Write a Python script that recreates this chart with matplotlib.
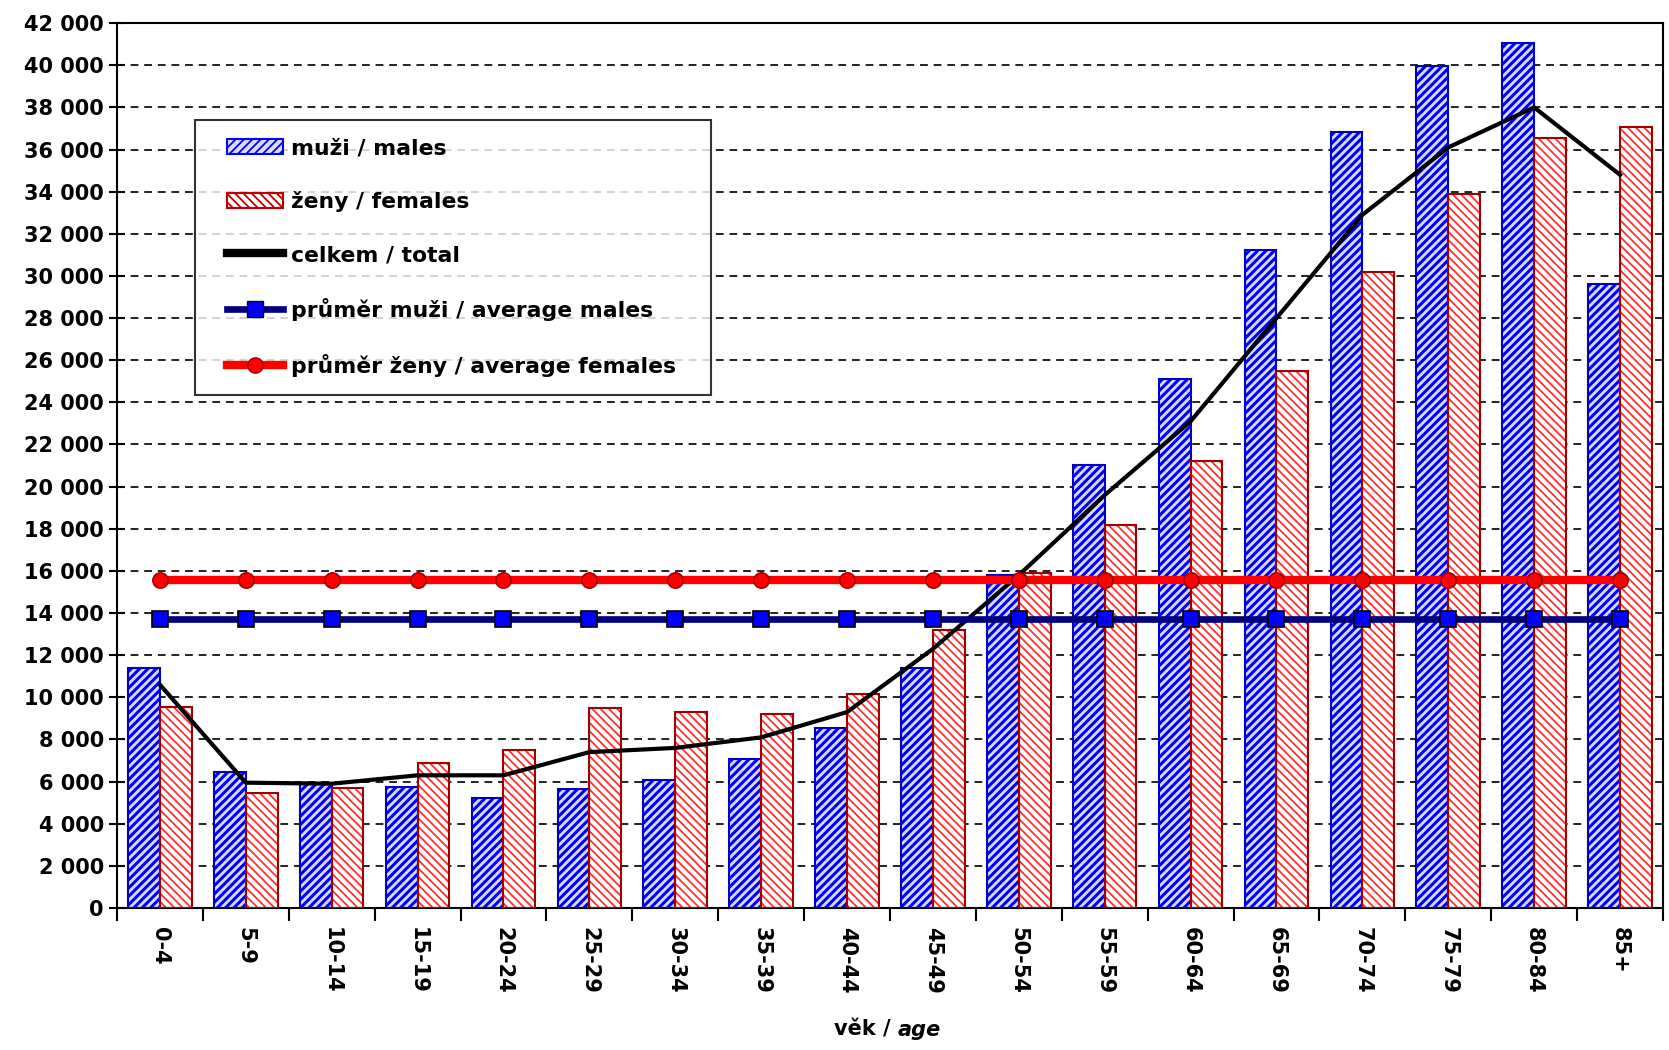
import matplotlib
matplotlib.use("Agg")
from matplotlib import pyplot as plt
from matplotlib.patches import Patch
from matplotlib.lines import Line2D
from matplotlib.legend_handler import HandlerPatch, HandlerLine2D
from matplotlib.offsetbox import DrawingArea
import numpy as np

ages = ["0-4", "5-9", "10-14", "15-19", "20-24", "25-29", "30-34", "35-39", "40-44",
        "45-49", "50-54", "55-59", "60-64", "65-69", "70-74", "75-79", "80-84", "85+"]
males = [11400, 6450, 5950, 5750, 5200, 5650, 6100, 7050, 8550,
         11400, 15800, 21050, 25100, 31250, 36850, 39950, 41050, 29600]
females = [9550, 5450, 5700, 6900, 7500, 9500, 9300, 9200, 10150,
           13200, 15900, 18200, 21200, 25500, 30200, 33900, 36550, 37050]
total = [10600, 5950, 5900, 6300, 6300, 7400, 7600, 8100, 9300,
         12300, 15800, 19600, 23100, 28000, 32900, 36100, 38000, 34800]
avg_males = 13700
avg_females = 15550

plt.rcParams['font.family'] = ['DejaVu Sans']
plt.rcParams['font.weight'] = 'bold'

fig = plt.figure(figsize=(16.69, 10.5), dpi=100)
ax = fig.add_axes([0.0701, 0.1352, 0.9263, 0.8428])

x = np.arange(len(ages))
w = 0.37

# bars: hatch pass then outline pass
plt.rcParams['hatch.linewidth'] = 2.2
ax.bar(x - w / 2, males, w, facecolor='#dcdcff', edgecolor='#0000ff',
       hatch='////', linewidth=0, zorder=2)
plt.rcParams['hatch.linewidth'] = 1.3
ax.bar(x + w / 2, females, w, facecolor='white', edgecolor='#ff3030',
       hatch='\\\\\\\\', linewidth=0, zorder=2)
ax.bar(x - w / 2, males, w, fill=False, edgecolor='#0000c0', linewidth=1.5, zorder=3)
ax.bar(x + w / 2, females, w, fill=False, edgecolor='#a00000', linewidth=1.5, zorder=3)

ax.plot(x, total, color='black', lw=3, zorder=4)
ax.plot(x, [avg_males] * len(x), color='#000080', lw=4.8, marker='s', ms=12,
        mfc='#0000ff', mec='black', mew=1.2, zorder=5)
ax.plot(x, [avg_females] * len(x), color='#ff0000', lw=6, marker='o', ms=11,
        mfc='#ff0000', mec='#a00000', mew=1.2, zorder=5)

ax.set_xlim(-0.5, len(ages) - 0.5)
ax.set_ylim(0, 42000)
yt = np.arange(0, 42001, 2000)
ax.set_yticks(yt)
ax.set_yticklabels([f"{v:,}".replace(",", " ") for v in yt], fontsize=15)
ax.set_xticks(np.arange(len(ages) + 1) - 0.5)
ax.set_xticklabels([])
ax.set_xticks(x, minor=True)
ax.set_xticklabels(ages, minor=True, rotation=270, fontsize=15)
ax.tick_params(axis='x', which='minor', length=0, pad=14)
ax.tick_params(axis='x', which='major', length=9, width=1.5, direction='out')
ax.tick_params(axis='y', length=11, width=1.5, direction='inout', pad=4)

for v in yt[1:-1]:
    ax.axhline(v, color='#222222', lw=1.4, dashes=(4, 3), zorder=1)
for s in ax.spines.values():
    s.set_linewidth(1.5)

split = 0.0701 + 0.9263 * 0.505
fig.text(split, 0.01, "věk / ", ha='right', va='bottom', fontsize=15)
fig.text(split, 0.01, "age", ha='left', va='bottom', fontsize=15, style='italic')

handles = [
    Patch(facecolor='#dcdcff', edgecolor='#0000ff', hatch='////', linewidth=1.5),
    Patch(facecolor='white', edgecolor='#c00000', hatch='\\\\\\\\', linewidth=1.5),
    Line2D([], [], color='black', lw=6),
    Line2D([], [], color='#000080', lw=4.8, marker='s', ms=12, mfc='#0000ff', mec='black'),
    Line2D([], [], color='#ff0000', lw=6, marker='o', ms=11, mfc='#ff0000', mec='#a00000'),
]
labels = ["muži / males", "ženy / females", "celkem / total",
          "průměr muži / average males", "průměr ženy / average females"]
hm = {Patch: HandlerPatch(xpad=0.62), Line2D: HandlerLine2D(xpad=0.62)}
leg = ax.legend(handles, labels, loc='upper left', bbox_to_anchor=(0.0505, 0.890),
                fontsize=15.75, frameon=True, fancybox=False, edgecolor='black',
                handlelength=3.2, handletextpad=0.35, labelspacing=1.5,
                borderpad=0.82, borderaxespad=0, handler_map=hm)
leg.get_frame().set_linewidth(1.5)
leg.set_zorder(10)
# extra room on the right of the longest entry
rows = leg._legend_handle_box.get_children()[0].get_children()
rows[-1].get_children().append(DrawingArea(width=7, height=0))

fig.savefig("out.png", dpi=100)
